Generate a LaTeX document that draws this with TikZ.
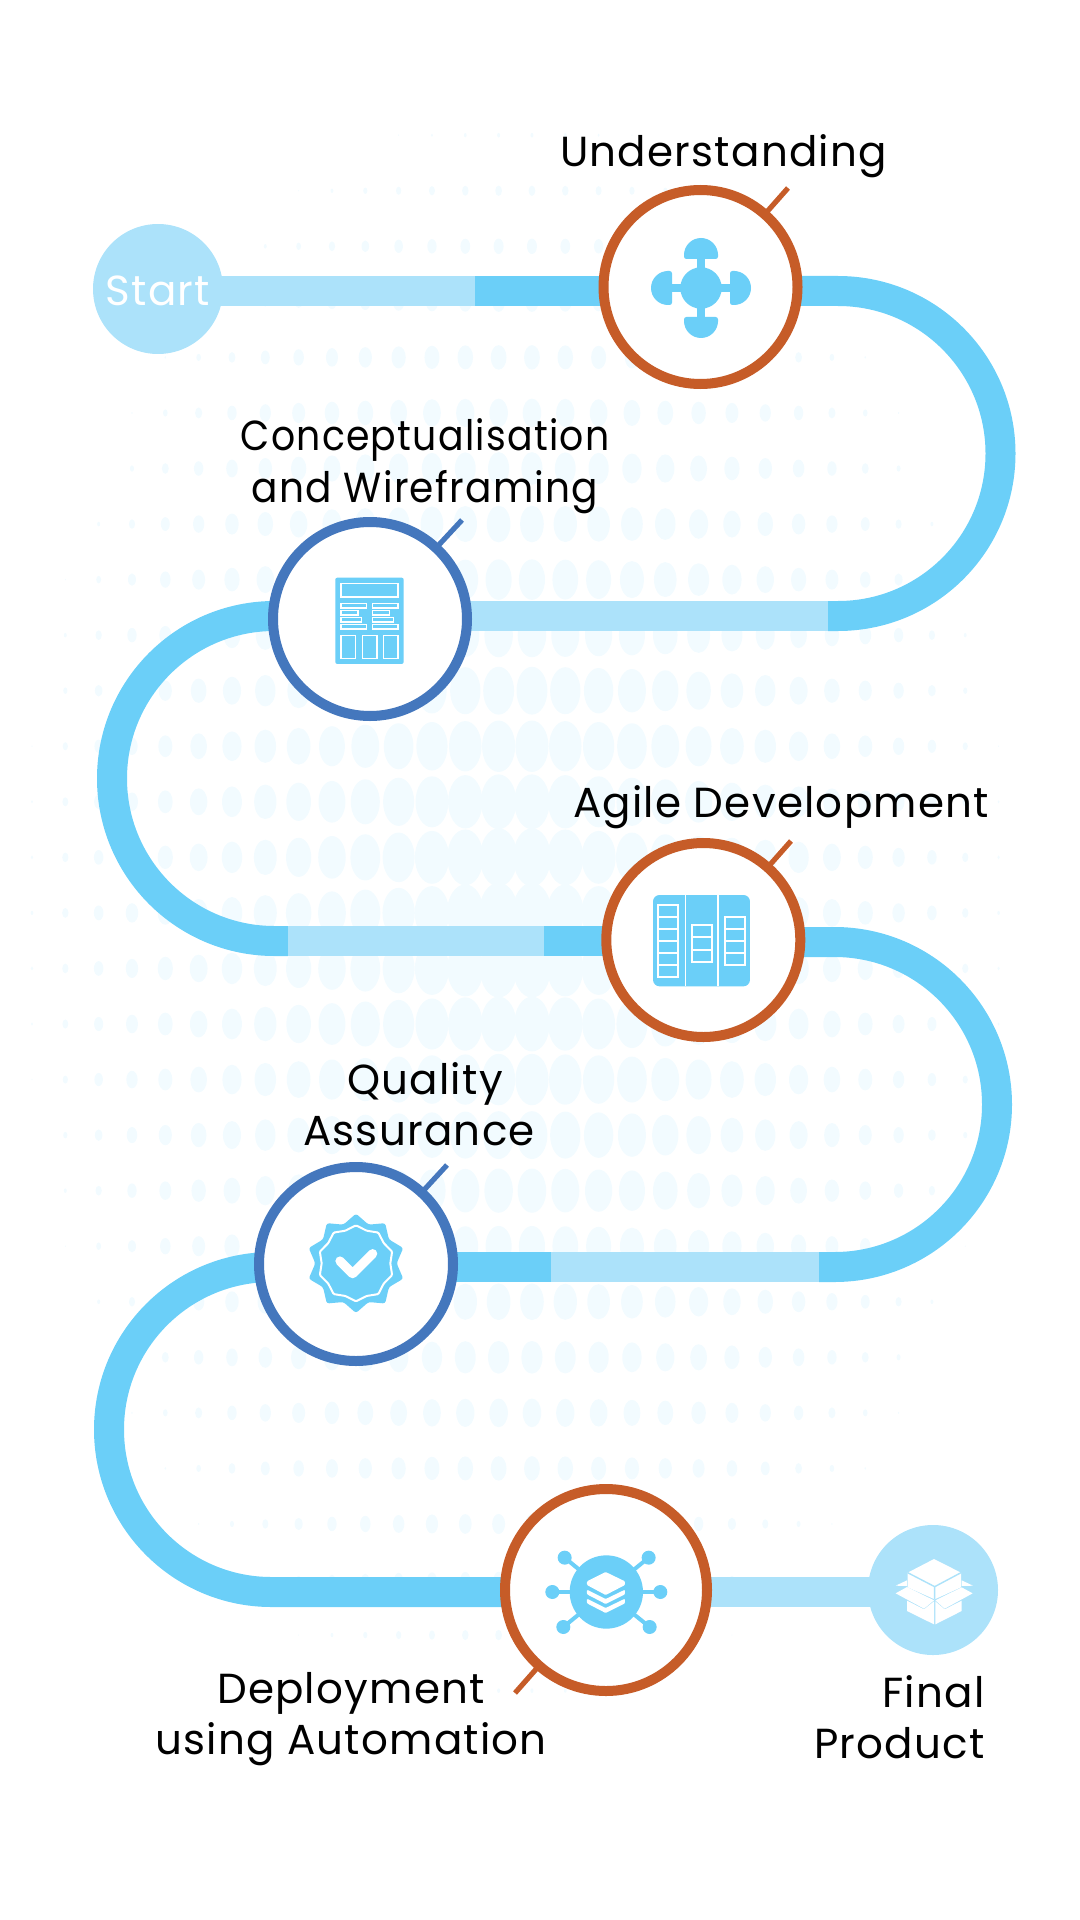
\documentclass[tikz,border=0pt]{standalone}
\usepackage{fontspec}
\setmainfont{Poppins}
\newfontfamily\labfont[LetterSpace=3]{Poppins}
\definecolor{trackdark}{HTML}{6BCFF8}
\definecolor{tracklight}{HTML}{ACE2FA}
\definecolor{ringorange}{HTML}{C65C28}
\definecolor{ringblue}{HTML}{4477BD}
\definecolor{dotcol}{HTML}{F2FBFF}
\pgfdeclarelayer{bg}
\pgfsetlayers{bg,main}
\tikzset{
  ringo/.style={circle,draw=ringorange,line width=5pt,fill=white,inner sep=0pt,minimum size=97pt},
  ringb/.style={circle,draw=ringblue,line width=5pt,fill=white,inner sep=0pt,minimum size=97pt},
  endcirc/.style={circle,fill=tracklight,inner sep=0pt,minimum size=65pt},
  lab/.style={font=\labfont\fontsize{21}{25.7}\selectfont,align=center,text=black,inner sep=0pt},
  tdark/.style={draw=trackdark,line width=15pt},
  tlight/.style={draw=tracklight,line width=15pt},
  ticko/.style={draw=ringorange,line width=2.6pt,shorten <=-2pt},
  tickb/.style={draw=ringblue,line width=2.6pt,shorten <=-2pt},
  ic/.style={fill=trackdark},
  wbox/.style={draw=white,line width=0.7pt},
}
\begin{document}
\begin{tikzpicture}[x=0.5pt,y=0.5pt,yscale=-1]
\useasboundingbox (0,0) rectangle (1080,1920);
% nodes
\node[endcirc] (start) at (158,289) {};
\node[lab,text=white] (startlab) at (158,291) {Start};
\node[ringo] (c1) at (700.5,287) {};
\node[ringb] (c2) at (370,619) {};
\node[ringo] (c3) at (703.3,940) {};
\node[ringb] (c4) at (356,1264) {};
\node[ringo,minimum size=101pt] (c5) at (606,1590) {};
\node[endcirc] (final) at (933,1590) {};
\node[lab] (l1) at (723.5,156) {Understanding};
\node[lab] (l2) at (425,466) {{\addfontfeature{FakeStretch=0.9}Conceptualisation}\\{\addfontfeature{FakeStretch=0.93}and Wireframing}};
\node[lab] (l3) at (781,807) {Agile Development};
\node[lab] (l4) at (419,1104) {\hspace*{6pt}Quality\\Assurance};
\node[lab] (l5) at (351,1719) {Deployment\\using Automation};
\node[lab,align=right,anchor=east] (l6) at (985,1717) {Final\\Product};
% coordinates
\coordinate (m1) at (475,291);
\coordinate (a1) at (838,291);
\coordinate (b1) at (828,616);
\coordinate (a2) at (274.5,616);
\coordinate (b2) at (288,941);
\coordinate (m2) at (544,941);
\coordinate (a3) at (834.5,942);
\coordinate (b3) at (819,1267);
\coordinate (m3) at (551,1267);
\coordinate (a4) at (271.5,1267);
\coordinate (b4) at (271.5,1592);
\coordinate (t1) at (788,188);
\coordinate (t2) at (462,520);
\coordinate (t3) at (791,841);
\coordinate (t4) at (447,1165);
\coordinate (t5) at (515,1693);
\begin{pgfonlayer}{bg}
% halftone dots
\foreach \row in {0,...,28}{
  \pgfmathsetmacro{\yy}{135.2+55.55*\row}
  \foreach \col in {0,...,29}{
    \pgfmathsetmacro{\xx}{32+33.33*\col}
    \pgfmathsetmacro{\dd}{sqrt(((\xx-515)/500)^2+((\yy-913)/810)^2)}
    \pgfmathsetmacro{\ss}{20*max(1-\dd,0.0001)^0.8}
    \ifdim\ss pt>0.3pt
      \fill[dotcol] (\xx,\yy) ellipse[x radius=\ss,y radius=1.55*\ss];
    \fi
  }
}
% track
\draw[tlight] (start |- m1) -- (m1);
\draw[tdark] (m1) -- (c1 |- m1);
\draw[tdark] (c1 |- a1) -- (a1) arc[start angle=-90,end angle=90,radius=162.5] -- (b1);
\draw[tlight] (b1) -- (c2 |- b1);
\draw[tdark] (c2 |- a2) -- (a2) arc[start angle=270,end angle=90,radius=162.5] -- (b2);
\draw[tlight] (b2) -- (m2);
\draw[tdark] (m2) -- (c3 |- m2);
\draw[tdark] (c3 |- a3) -- (a3) arc[start angle=-90,end angle=90,radius=162.5] -- (b3);
\draw[tlight] (b3) -- (m3);
\draw[tdark] (m3) -- (c4 |- m3);
\draw[tdark] (c4 |- a4) -- (a4) arc[start angle=270,end angle=90,radius=162.5] -- (b4) -- (c5 |- b4);
\draw[tlight] (c5 |- b4) -- (final |- b4);
% ticks
\draw[ticko] (c1) -- (t1);
\draw[tickb] (c2) -- (t2);
\draw[ticko] (c3) -- (t3);
\draw[tickb] (c4) -- (t4);
\draw[ticko] (c5) -- (t5);
\end{pgfonlayer}
% icon 1
\begin{scope}[shift={(701,288)}]
\fill[ic] (0,0) circle[radius=20.7];
\fill[ic] (-4,-45) rectangle (4,45);
\fill[ic] (-45,-4) rectangle (45,4);
\foreach \a in {0,90,180,270}{
  \begin{scope}[rotate=\a]
  \fill[ic] (-17,-33) arc[start angle=180,end angle=360,radius=17] -- cycle;
  \fill[ic,rounded corners=1.2pt] (-17,-36) rectangle (17,-29);
  \end{scope}
}
\end{scope}
% icon 2
\begin{scope}[shift={(240,490)},scale=0.3333]
\fill[ic,rounded corners=1pt] (286,263) rectangle (491,522);
\draw[wbox] (303,281) rectangle (474,321);
\draw[wbox] (303,341) rectangle (379,354);
\draw[wbox] (303,362) rectangle (354,375);
\draw[wbox] (303,383) rectangle (364,396);
\draw[wbox] (303,404) rectangle (379,417);
\draw[wbox] (398,341) rectangle (474,354);
\draw[wbox] (398,362) rectangle (448,375);
\draw[wbox] (398,383) rectangle (460,396);
\draw[wbox] (398,404) rectangle (474,417);
\draw[wbox] (303,437) rectangle (347,505);
\draw[wbox] (367,437) rectangle (411,505);
\draw[wbox] (430,437) rectangle (474,505);
\end{scope}
% icon 3
\begin{scope}[shift={(580,820)},scale=0.3333]
\fill[ic,rounded corners=3.3pt] (219,225) rectangle (510,499);
\fill[white] (313.5,225) rectangle (318.5,499);
\fill[white] (412.5,225) rectangle (417.5,499);
\draw[wbox,line width=0.85pt] (235,254) rectangle (295,472);
\foreach \y in {290,327,364,400,436}{\draw[wbox,line width=0.85pt] (235,\y) -- (295,\y);}
\draw[wbox,line width=0.85pt] (335,316) rectangle (395,425);
\foreach \y in {352,389}{\draw[wbox,line width=0.85pt] (335,\y) -- (395,\y);}
\draw[wbox,line width=0.85pt] (435,290) rectangle (495,436);
\foreach \y in {326,363,400}{\draw[wbox,line width=0.85pt] (435,\y) -- (495,\y);}
\end{scope}
% icon 4
\begin{scope}[shift={(240,1150)},scale=0.3333]
\begin{scope}[shift={(348,340)}]
\fill[ic,rounded corners=1.2pt] (-90:149) \foreach \a in {1,...,9}{ -- ({-90-18+36*\a}:122) -- ({-90+36*\a}:149)} -- (252:122) -- cycle;
\draw[draw=white,line width=1pt,rounded corners=0.5pt] (-90:114) \foreach \a in {1,...,9}{ -- ({-90-18+36*\a}:103) -- ({-90+36*\a}:114)} -- (252:103) -- cycle;
\end{scope}
\draw[white,line width=4.6pt,line cap=round,line join=round] (300,333) -- (338,371) -- (398,311);
\end{scope}
% icon 5
\begin{scope}[shift={(490,1480)},scale=0.3333]
\foreach \x/\y in {224/233,476/233,187/336,511/336,220/441,479/441}{
  \draw[trackdark,line width=2pt] (349,336) -- (\x,\y);
  \fill[ic] (\x,\y) circle[radius=21];
}
\fill[ic] (349,336) circle[radius=110];
\fill[white,rounded corners=0.5pt] (347,276) -- (405,304) -- (405,315) -- (347,345) -- (291,315) -- (291,304) -- cycle;
\fill[white,rounded corners=0.5pt] (291,329) -- (347,357) -- (405,329) -- (405,343) -- (347,372) -- (291,343) -- cycle;
\fill[white,rounded corners=0.5pt] (291,356) -- (347,384) -- (405,356) -- (405,370) -- (347,399) -- (291,370) -- cycle;
\end{scope}
% icon 6
\begin{scope}[shift={(860,1510)},scale=0.3333]
\fill[white] (107,227) -- (141,211) -- (141,228) -- cycle;
\fill[white] (339,227) -- (305,211) -- (305,228) -- cycle;
\fill[white] (143,188) -- (222,147) -- (303,188) -- (303,232) -- (224,268) -- (143,232) -- cycle;
\draw[tracklight,line width=0.7pt] (143,188) -- (224,230) -- (303,188) (224,230) -- (224,268);
\fill[white] (107,250) -- (141,231) -- (222,271) -- (192,296) -- cycle;
\fill[white] (338,250) -- (305,232) -- (226,271) -- (254,296) -- cycle;
\fill[white] (141,272) -- (192,298) -- (222,274) -- (222,343) -- (141,303) -- cycle;
\fill[white] (305,272) -- (254,298) -- (226,274) -- (226,343) -- (305,303) -- cycle;
\end{scope}
\end{tikzpicture}
\end{document}
